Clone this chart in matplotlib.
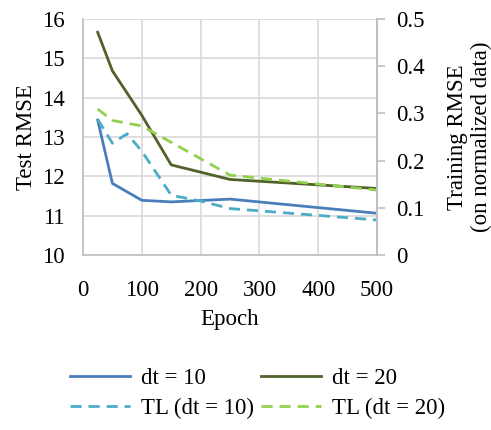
import matplotlib.pyplot as plt

plt.rcParams['font.family'] = ['Liberation Serif', 'DejaVu Serif']

# epochs and Test RMSE values
epochs = [25, 50, 100, 150, 250, 500]
dt10 = [13.43, 11.82, 11.39, 11.35, 11.42, 11.06]
dt20 = [15.66, 14.68, 13.55, 12.29, 11.92, 11.69]

tl_epochs10 = [25, 50, 75, 100, 150, 200, 250, 500]
tl_dt10 = [13.45, 12.84, 13.08, 12.64, 11.52, 11.37, 11.18, 10.89]

tl_epochs20 = [25, 50, 100, 250, 500]
tl_dt20 = [13.71, 13.42, 13.28, 12.03, 11.65]

left_ticks = [10, 11, 12, 13, 14, 15, 16]
right_ticks = [0, 0.1, 0.2, 0.3, 0.4, 0.5]
x_ticks = [0, 100, 200, 300, 400, 500]

fig = plt.figure(figsize=(4.91, 4.30), dpi=100)
ax = fig.add_axes([0.169, 0.407, 0.599, 0.549])

l1, = ax.plot(epochs, dt10, color="#4a7ebb", lw=2.0, label="dt = 10")
l2, = ax.plot(epochs, dt20, color="#4f6228", lw=2.0, label="dt = 20")
l3, = ax.plot(tl_epochs10, tl_dt10, color="#4bacc6", lw=2.0, ls=(0, (4, 2.5)), label="TL (dt = 10)")
l4, = ax.plot(tl_epochs20, tl_dt20, color="#92d050", lw=2.0, ls=(0, (4, 2.5)), label="TL (dt = 20)")

ax.set_xlim(0, 500)
ax.set_ylim(10, 16)
ax.set_xticks(x_ticks)
ax.set_yticks(left_ticks)
ax.grid(True, color="#d9d9d9", lw=1.2)
ax.set_axisbelow(True)
ax.tick_params(axis="y", length=0, labelsize=16.5, pad=13)
ax.tick_params(axis="x", length=0, labelsize=16.5, pad=18)
for s in ax.spines.values():
    s.set_color("#bfbfbf")
    s.set_linewidth(1.2)
ax.spines["top"].set_visible(False)
ax.set_xlabel("Epoch", fontsize=16.5, labelpad=6)
ax.set_ylabel("Test RMSE", fontsize=16.5, labelpad=4)

ax2 = ax.twinx()
ax2.set_ylim(0, 0.5)
ax2.set_yticks(right_ticks)
ax2.set_yticklabels(["0", "0.1", "0.2", "0.3", "0.4", "0.5"])
ax2.tick_params(labelsize=16.5, length=6, color="#bfbfbf", width=1.2, pad=8)
for s in ax2.spines.values():
    s.set_visible(False)
ax2.spines["right"].set_visible(True)
ax2.spines["right"].set_color("#bfbfbf")
ax2.spines["right"].set_linewidth(1.2)
ax2.set_ylabel("Training RMSE\n(on normalized data)", fontsize=16.5, labelpad=16,
               linespacing=1.15)

fig.legend([l1, l3, l2, l4], [l1.get_label(), l3.get_label(), l2.get_label(), l4.get_label()],
           loc="center", bbox_to_anchor=(0.525, 0.085), ncol=2,
           frameon=False, fontsize=16.5, handlelength=2.6, columnspacing=0.3,
           handletextpad=0.5, labelspacing=0.35)

fig.savefig("out.png", dpi=100)
